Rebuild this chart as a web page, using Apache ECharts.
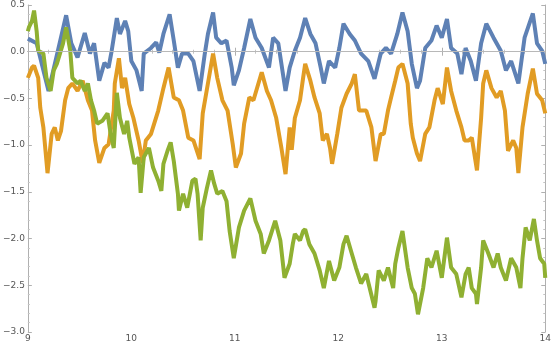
<!DOCTYPE html>
<html>
<head>
<meta charset="utf-8">
<script src="https://cdn.jsdelivr.net/npm/echarts@6/dist/echarts.min.js"></script>
<style>
  html, body { margin: 0; padding: 0; background: #fff; }
  #chart { width: 554px; height: 344px; }
</style>
</head>
<body>
<div id="chart"></div>
<script>
// values (x = time, y = value)
const blueX = [9.00, 9.085, 9.20, 9.37, 9.42, 9.48, 9.55, 9.60, 9.64, 9.69, 9.74, 9.78, 9.81, 9.86, 9.89, 9.94, 9.97, 10.00, 10.05, 10.10, 10.12, 10.19, 10.24, 10.27, 10.31, 10.37, 10.41, 10.45, 10.49, 10.55, 10.60, 10.66, 10.71, 10.74, 10.79, 10.82, 10.87, 10.92, 10.97, 10.99, 11.04, 11.09, 11.15, 11.20, 11.26, 11.33, 11.37, 11.42, 11.49, 11.53, 11.58, 11.63, 11.68, 11.73, 11.78, 11.83, 11.86, 11.91, 11.97, 12.01, 12.05, 12.11, 12.16, 12.22, 12.29, 12.35, 12.41, 12.46, 12.51, 12.57, 12.62, 12.67, 12.71, 12.76, 12.79, 12.84, 12.90, 12.95, 13.00, 13.05, 13.09, 13.15, 13.19, 13.23, 13.28, 13.33, 13.38, 13.43, 13.50, 13.57, 13.62, 13.67, 13.74, 13.80, 13.88, 13.92, 13.97, 14.00];
const blueY = [0.14, 0.09, -0.42, 0.39, 0.09, -0.06, 0.20, -0.02, 0.09, -0.31, -0.12, -0.17, 0.01, 0.36, 0.19, 0.33, 0.22, -0.10, -0.20, -0.42, -0.02, 0.04, 0.10, -0.01, 0.19, 0.40, 0.12, -0.17, -0.02, -0.02, -0.10, -0.42, -0.02, 0.19, 0.42, 0.15, 0.09, 0.12, -0.17, -0.36, -0.20, 0.04, 0.35, 0.15, 0.04, -0.17, 0.15, 0.09, -0.42, -0.17, 0.01, 0.15, 0.36, 0.19, 0.09, -0.17, -0.34, -0.10, -0.17, 0.04, 0.30, 0.19, 0.12, -0.02, -0.10, -0.29, -0.02, 0.04, -0.02, 0.19, 0.42, 0.22, -0.13, -0.39, -0.31, 0.04, 0.12, 0.28, 0.15, 0.35, 0.04, -0.02, -0.24, 0.04, -0.10, -0.31, 0.09, 0.30, 0.15, 0.01, -0.20, -0.10, -0.34, 0.15, 0.41, 0.09, 0.01, -0.13];

const orangeX = [9.00, 9.04, 9.06, 9.10, 9.12, 9.15, 9.19, 9.23, 9.26, 9.29, 9.32, 9.36, 9.39, 9.43, 9.48, 9.53, 9.58, 9.62, 9.65, 9.69, 9.74, 9.78, 9.83, 9.84, 9.88, 9.91, 9.94, 9.98, 10.02, 10.07, 10.11, 10.14, 10.19, 10.26, 10.31, 10.36, 10.41, 10.46, 10.50, 10.55, 10.60, 10.66, 10.69, 10.74, 10.79, 10.83, 10.88, 10.93, 10.98, 11.01, 11.06, 11.09, 11.14, 11.18, 11.26, 11.31, 11.35, 11.40, 11.45, 11.49, 11.53, 11.55, 11.58, 11.63, 11.66, 11.68, 11.73, 11.77, 11.82, 11.85, 11.89, 11.92, 11.94, 11.99, 12.03, 12.08, 12.13, 12.16, 12.20, 12.27, 12.32, 12.36, 12.41, 12.44, 12.48, 12.51, 12.55, 12.58, 12.62, 12.67, 12.70, 12.72, 12.76, 12.79, 12.84, 12.88, 12.93, 12.96, 13.01, 13.05, 13.09, 13.14, 13.19, 13.22, 13.26, 13.29, 13.34, 13.38, 13.40, 13.43, 13.48, 13.53, 13.57, 13.61, 13.64, 13.69, 13.72, 13.74, 13.78, 13.83, 13.88, 13.92, 13.97, 14.00];
const orangeY = [-0.28, -0.17, -0.15, -0.28, -0.60, -0.81, -1.30, -0.88, -0.81, -0.95, -0.85, -0.52, -0.39, -0.34, -0.42, -0.31, -0.52, -0.63, -0.95, -1.19, -1.03, -0.99, -0.63, -0.34, -0.07, -0.39, -0.28, -0.56, -0.71, -0.95, -1.19, -0.95, -0.88, -0.63, -0.39, -0.17, -0.49, -0.52, -0.63, -0.92, -0.95, -1.15, -0.66, -0.34, -0.02, -0.28, -0.52, -0.63, -0.99, -1.24, -1.09, -0.77, -0.49, -0.52, -0.22, -0.42, -0.52, -0.71, -1.03, -1.31, -0.81, -1.05, -0.71, -0.52, -0.28, -0.13, -0.31, -0.49, -0.66, -0.95, -0.88, -1.03, -1.20, -0.88, -0.60, -0.45, -0.34, -0.24, -0.63, -0.63, -0.81, -1.17, -0.88, -0.88, -0.63, -0.49, -0.31, -0.17, -0.13, -0.34, -0.77, -0.92, -1.09, -1.17, -0.88, -0.81, -0.52, -0.39, -0.56, -0.17, -0.42, -0.63, -0.81, -0.95, -0.95, -0.92, -1.27, -0.71, -0.34, -0.20, -0.39, -0.49, -0.42, -0.63, -1.06, -0.95, -1.03, -1.30, -0.81, -0.45, -0.18, -0.45, -0.52, -0.66];

const greenX = [9.00, 9.01, 9.04, 9.06, 9.085, 9.10, 9.15, 9.18, 9.22, 9.25, 9.28, 9.31, 9.34, 9.37, 9.41, 9.43, 9.48, 9.51, 9.55, 9.58, 9.61, 9.64, 9.67, 9.72, 9.77, 9.80, 9.83, 9.86, 9.89, 9.93, 9.96, 9.98, 10.03, 10.07, 10.09, 10.12, 10.17, 10.21, 10.26, 10.29, 10.31, 10.35, 10.38, 10.41, 10.45, 10.46, 10.50, 10.54, 10.59, 10.62, 10.64, 10.67, 10.69, 10.73, 10.77, 10.80, 10.83, 10.88, 10.92, 10.95, 10.99, 11.04, 11.09, 11.15, 11.20, 11.25, 11.28, 11.33, 11.39, 11.44, 11.48, 11.53, 11.56, 11.58, 11.63, 11.66, 11.68, 11.72, 11.77, 11.82, 11.86, 11.91, 11.96, 12.01, 12.05, 12.08, 12.13, 12.17, 12.22, 12.27, 12.35, 12.36, 12.39, 12.44, 12.48, 12.53, 12.55, 12.58, 12.62, 12.67, 12.71, 12.74, 12.77, 12.82, 12.86, 12.90, 12.95, 13.00, 13.05, 13.09, 13.14, 13.19, 13.23, 13.26, 13.29, 13.33, 13.34, 13.38, 13.40, 13.45, 13.50, 13.54, 13.57, 13.62, 13.67, 13.72, 13.76, 13.78, 13.81, 13.85, 13.89, 13.92, 13.95, 13.99, 14.00];
const greenY = [0.22, 0.26, 0.33, 0.44, 0.22, 0.01, -0.02, -0.28, -0.42, -0.20, -0.13, -0.02, 0.09, 0.26, 0.01, -0.28, -0.34, -0.31, -0.42, -0.34, -0.52, -0.63, -0.77, -0.74, -0.66, -0.88, -1.03, -0.44, -0.71, -0.88, -0.74, -0.92, -1.20, -1.13, -1.51, -1.13, -1.03, -1.24, -1.38, -1.49, -1.20, -1.06, -0.97, -1.17, -1.52, -1.70, -1.52, -1.67, -1.38, -1.36, -1.52, -2.02, -1.67, -1.46, -1.27, -1.41, -1.52, -1.49, -1.60, -1.92, -2.21, -1.88, -1.70, -1.57, -1.81, -1.95, -2.16, -2.02, -1.81, -2.02, -2.42, -2.27, -2.06, -1.95, -2.02, -1.92, -1.90, -2.06, -2.16, -2.34, -2.53, -2.24, -2.45, -2.31, -2.06, -1.97, -2.16, -2.31, -2.48, -2.38, -2.74, -2.67, -2.34, -2.45, -2.31, -2.53, -2.27, -2.10, -1.92, -2.31, -2.53, -2.59, -2.81, -2.53, -2.21, -2.31, -2.13, -2.42, -1.99, -2.31, -2.38, -2.63, -2.38, -2.31, -2.53, -2.59, -2.70, -2.31, -2.02, -2.16, -2.31, -2.16, -2.31, -2.45, -2.21, -2.31, -2.53, -2.21, -1.88, -2.02, -1.79, -2.02, -2.21, -2.27, -2.42];

const xTicks = [9, 10, 11, 12, 13, 14];
const yTicks = [0.5, 0.0, -0.5, -1.0, -1.5, -2.0, -2.5, -3.0];

function pairs(xs, ys) {
  return xs.map((x, i) => [x, ys[i]]);
}

const chart = echarts.init(document.getElementById('chart'));

const frameLine = { show: true, lineStyle: { color: '#b0b0b0', width: 1 } };
const tick = { show: true, inside: true, length: 4, lineStyle: { color: '#b0b0b0' } };
const minor = { show: true, splitNumber: 5, length: 2, lineStyle: { color: '#c4c4c4' } };
const labelStyle = { color: '#555', fontSize: 9, fontFamily: 'DejaVu Sans' };

chart.setOption({
  animation: false,
  grid: { left: 19, right: 6, top: 5, bottom: 12 },
  xAxis: [{
    type: 'value', min: xTicks[0], max: xTicks[xTicks.length - 1], interval: 1,
    axisLine: frameLine, axisTick: tick, minorTick: minor,
    splitLine: { show: false },
    axisLabel: { ...labelStyle, margin: 2 }
  }, {
    type: 'value', position: 'top', min: xTicks[0], max: xTicks[xTicks.length - 1], interval: 1,
    axisLine: frameLine, axisTick: tick, minorTick: minor,
    splitLine: { show: false }, axisLabel: { show: false }
  }],
  yAxis: [{
    type: 'value', min: yTicks[yTicks.length - 1], max: yTicks[0], interval: 0.5,
    axisLine: frameLine, axisTick: tick, minorTick: minor,
    splitLine: { show: false },
    axisLabel: { ...labelStyle, margin: 3, formatter: v => v.toFixed(1).replace('-', '\u2212') }
  }, {
    type: 'value', position: 'right', min: yTicks[yTicks.length - 1], max: yTicks[0], interval: 0.5,
    axisLine: frameLine, axisTick: tick, minorTick: minor,
    splitLine: { show: false }, axisLabel: { show: false }
  }],
  series: [
    {
      type: 'line', data: pairs(blueX, blueY), showSymbol: false,
      lineStyle: { color: '#5E81B5', width: 4 },
      markLine: {
        silent: true, symbol: 'none', label: { show: false },
        lineStyle: { color: '#b8b8b8', width: 1, type: 'solid' },
        data: [{ yAxis: 0 }]
      },
      z: 2
    },
    {
      type: 'line', data: pairs(orangeX, orangeY), showSymbol: false,
      lineStyle: { color: '#E19C24', width: 4 }, z: 3
    },
    {
      type: 'line', data: pairs(greenX, greenY), showSymbol: false,
      lineStyle: { color: '#8FB032', width: 4 }, z: 4
    }
  ]
});
</script>
</body>
</html>
